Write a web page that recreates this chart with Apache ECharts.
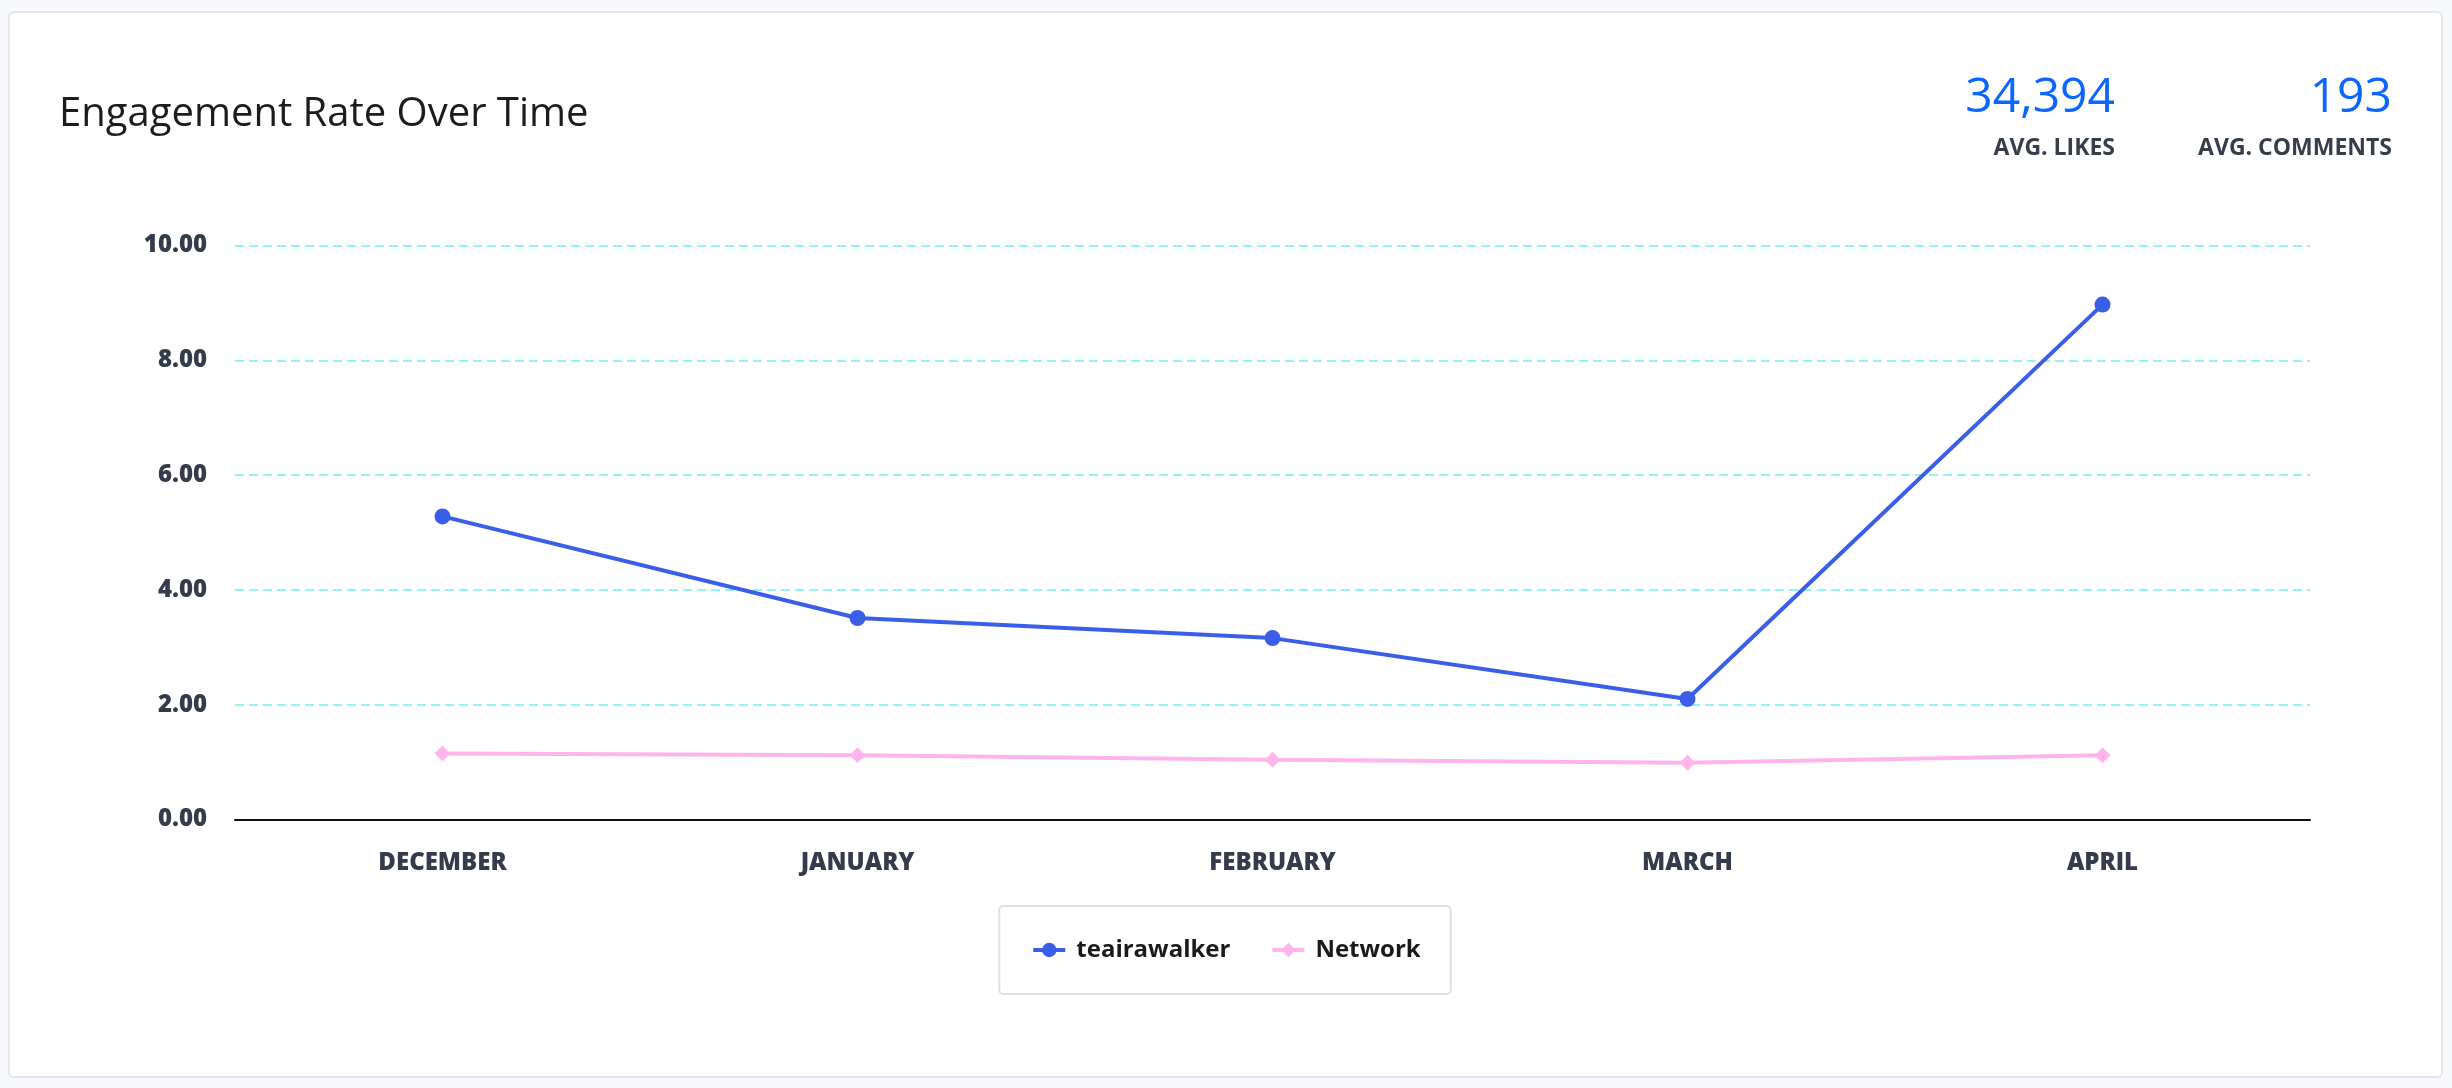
<!DOCTYPE html>
<html>
<head>
<meta charset="utf-8">
<title>Engagement Rate Over Time</title>
<script src="https://cdn.jsdelivr.net/npm/echarts@6/dist/echarts.min.js"></script>
<style>
  html, body { margin: 0; padding: 0; background: #f7f9fd; }
  #card {
    position: absolute; left: 8px; top: 11px; width: 2431px; height: 1063px;
    background: #fff; border: 2px solid #e4e6eb; border-radius: 6px;
  }
  #ChartLine { position: absolute; left: 0; top: 0; width: 2452px; height: 1088px; }
</style>
</head>
<body>
<div id="card"></div>
<div id="ChartLine"></div>
<script>
var months = ['DECEMBER', 'JANUARY', 'FEBRUARY', 'MARCH', 'APRIL'];
var userRate = [5.28, 3.51, 3.16, 2.10, 8.97];
var networkRate = [1.15, 1.12, 1.04, 0.99, 1.12];
var seriesNames = ['teairawalker', 'Network'];
var statValues = ['34,394', '193'];
var statLabels = ['AVG. LIKES', 'AVG. COMMENTS'];

function ShowLine() {
  var lineChart = echarts.init(document.getElementById('ChartLine'));

  var numStyle = { fontFamily: 'Open Sans', fontSize: 48, fontWeight: 'normal', color: '#0a66ff' };
  var labStyle = { fontFamily: 'Open Sans', fontSize: 23, fontWeight: 'bold', color: '#363e4c' };

  var lineoption = {
    backgroundColor: 'transparent',
    animation: false,
    title: [
      {
        text: 'Engagement Rate Over Time',
        left: 59,
        top: 95,
        padding: 0,
        textStyle: { fontFamily: 'Open Sans', fontSize: 40, fontWeight: 'normal', color: '#1c1c1c' }
      },
      { text: statValues[0], right: 337, top: 74, padding: 0, textStyle: numStyle },
      { text: statLabels[0], right: 337, top: 137, padding: 0, textStyle: labStyle },
      { text: statValues[1], right: 60, top: 74, padding: 0, textStyle: numStyle },
      { text: statLabels[1], right: 60, top: 137, padding: 0, textStyle: labStyle }
    ],
    legend: {
      data: seriesNames,
      left: 'center',
      top: 906,
      padding: [32, 30, 32, 32],
      itemGap: 40,
      itemWidth: 32,
      itemHeight: 18,
      borderColor: '#dcdfe4',
      borderWidth: 2,
      borderRadius: 4,
      lineStyle: { width: 4 },
      textStyle: {
        fontFamily: 'Open Sans',
        fontSize: 24,
        fontWeight: 'bold',
        color: '#1a1a1a',
        padding: [0, 0, 0, 6]
      }
    },
    grid: {
      left: 235,
      right: 142,
      top: 245.5,
      bottom: 268.5
    },
    xAxis: [
      {
        type: 'category',
        boundaryGap: true,
        data: months,
        axisLine: { lineStyle: { color: '#111', width: 2 } },
        axisTick: { show: false },
        axisLabel: {
          margin: 32,
          fontFamily: 'Open Sans',
          fontSize: 24,
          fontWeight: 800,
          color: '#343b4a'
        }
      }
    ],
    yAxis: [
      {
        type: 'value',
        min: 0,
        max: 10,
        interval: 2,
        axisLine: { show: false },
        axisTick: { show: false },
        axisLabel: {
          margin: 28,
          fontFamily: 'Open Sans',
          fontSize: 24,
          fontWeight: 800,
          color: '#343b4a',
          formatter: function (v) { return v.toFixed(2); }
        },
        splitLine: {
          lineStyle: { color: '#8ef4f7', width: 2, type: [9, 5] }
        }
      }
    ],
    series: [
      {
        name: seriesNames[0],
        type: 'line',
        data: userRate,
        symbol: 'circle',
        symbolSize: 16,
        z: 3,
        itemStyle: { color: '#3b5ee8' },
        lineStyle: { color: '#3b5ee8', width: 4 }
      },
      {
        name: seriesNames[1],
        type: 'line',
        data: networkRate,
        symbol: 'diamond',
        symbolSize: 16,
        z: 2,
        itemStyle: { color: '#ffb4ec' },
        lineStyle: { color: '#ffb4ec', width: 4 }
      }
    ]
  };

  lineChart.setOption(lineoption);
  window.addEventListener('resize', lineChart.resize);
}

ShowLine();
</script>
</body>
</html>
